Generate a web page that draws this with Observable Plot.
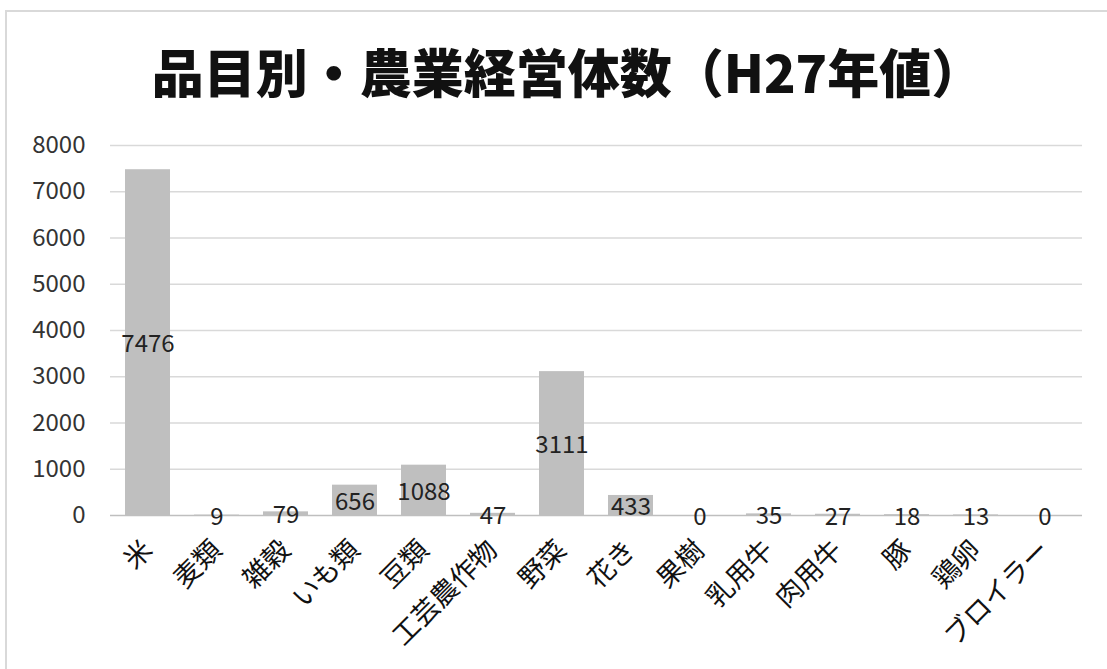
<!DOCTYPE html>
<html><head><meta charset="utf-8">
<script src="https://cdn.jsdelivr.net/npm/d3@7"></script>
<script src="https://cdn.jsdelivr.net/npm/@observablehq/plot@0.6"></script>
<style>
body{margin:0;background:#fff;font-family:"Noto Sans CJK JP",sans-serif;}
#frame{position:absolute;left:5px;top:10px;width:1110px;height:670px;border:2px solid #d9d9d9;box-sizing:border-box;}
#title{position:absolute;left:14px;top:0;width:1107px;height:120px;text-align:center;font-size:52px;font-weight:900;line-height:142px;color:#111;white-space:nowrap;}
#chart{position:absolute;left:0;top:120px;}
</style></head>
<body>
<div id="frame"></div>
<div id="title">品目別・農業経営体数（H27年値）</div>
<div id="chart"></div>
<script>
const categories = ["米","麦類","雑穀","いも類","豆類","工芸農作物","野菜","花き","果樹","乳用牛","肉用牛","豚","鶏卵","ブロイラー"];
const values = [7476,9,79,656,1088,47,3111,433,0,35,27,18,13,0];
const yTicks = [0,1000,2000,3000,4000,5000,6000,7000,8000];

const data = categories.map((c,i)=>({c, v: values[i]}));

const chart = Plot.plot({
  width: 1107,
  height: 549,
  marginTop: 25,
  marginBottom: 154,
  marginLeft: 110,
  marginRight: 25,
  style: {fontFamily: '"Noto Sans CJK JP", sans-serif', background: "transparent"},
  x: {domain: categories, paddingInner: 0.35, paddingOuter: 0.175, label: null},
  y: {domain: [0, 8000], label: null},
  marks: [
    Plot.ruleY(yTicks.filter(d=>d>0), {stroke: "#d9d9d9", strokeWidth: 1.5}),
    Plot.barY(data, {x: "c", y: "v", fill: "#bfbfbf"}),
    Plot.ruleY([0], {stroke: "#bfbfbf", strokeWidth: 1.5}),
    Plot.text(data, {x: "c", y: d => d.v/2, text: d => String(d.v), fill: "#222", fontSize: 24, dy: 2}),
    Plot.axisY({ticks: yTicks, tickFormat: d => String(d), tickSize: 0, tickPadding: 25, fontSize: 24, label: null, color: "#333"}),
    Plot.axisX({tickSize: 0, tickPadding: 30, tickRotate: -45, fontSize: 27, label: null, color: "#111"})
  ]
});
document.getElementById("chart").appendChild(chart);
</script>
</body></html>
